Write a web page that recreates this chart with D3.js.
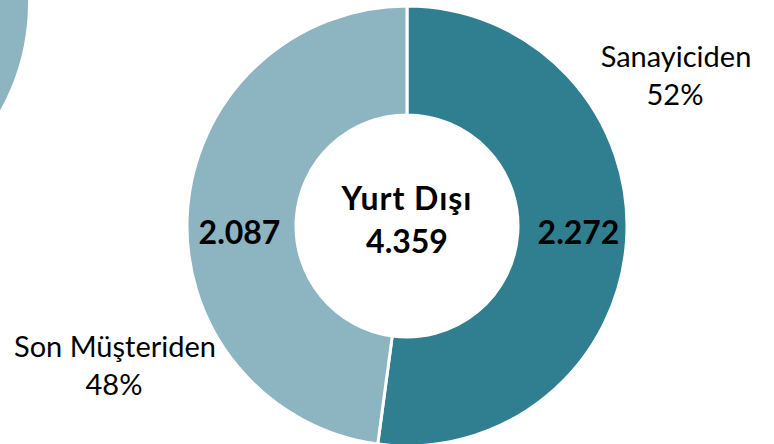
<!DOCTYPE html>
<html>
<head>
<meta charset="utf-8">
<script src="https://cdn.jsdelivr.net/npm/d3@7"></script>
<style>
  body { margin: 0; background: #fff; }
  svg { display: block; font-family: Lato, "Open Sans", sans-serif; }
</style>
</head>
<body>
<div id="chart"></div>
<script>
// values
var categories = ["Sanayiciden", "Son Müşteriden"];
var values = [2272, 2087];
var valueLabels = ["2.272", "2.087"];
var pctLabels = ["52%", "48%"];
var centerTitle = "Yurt Dışı";
var centerTotal = "4.359";
var colors = ["#307F90", "#8DB4C1"];

var width = 774, height = 444;
var cx = 407, cy = 226,
    outerR = 220, innerR = 111;

var svg = d3.select("#chart")
  .append("svg")
  .attr("width", width)
  .attr("height", height);

// neighbouring donut, mostly cut off at the top left
svg.append("circle")
  .attr("cx", -192)
  .attr("cy", 3)
  .attr("r", outerR)
  .attr("fill", colors[1]);

var g = svg.append("g")
  .attr("transform", "translate(" + cx + "," + cy + ")");

var pie = d3.pie().sort(null).value(function(d) { return d; });
var arc = d3.arc().innerRadius(innerR).outerRadius(outerR);

g.selectAll("path")
  .data(pie(values))
  .enter().append("path")
  .attr("d", arc)
  .attr("fill", function(d, i) { return colors[i]; })
  .attr("stroke", "#fff")
  .attr("stroke-width", 3);

// value labels on the ring, kept level with each other
var midR = (innerR + outerR) / 2;
g.selectAll(".val")
  .data(valueLabels)
  .enter().append("text")
  .attr("class", "val")
  .attr("x", function(d, i) { return i === 0 ? midR + 6 : -midR - 2; })
  .attr("y", 18)
  .attr("text-anchor", "middle")
  .attr("font-size", 32)
  .attr("font-weight", "bold")
  .attr("fill", "#000")
  .text(function(d) { return d; });

// centre
g.append("text")
  .attr("x", 0).attr("y", -16)
  .attr("text-anchor", "middle")
  .attr("font-size", 32)
  .attr("font-weight", "bold")
  .attr("letter-spacing", 1)
  .text(centerTitle);
g.append("text")
  .attr("x", 0).attr("y", 27)
  .attr("text-anchor", "middle")
  .attr("font-size", 32)
  .attr("font-weight", "bold")
  .text(centerTotal);

// outside category labels
var outPos = [[676, 67], [115, 357]];
categories.forEach(function(c, i) {
  var t = svg.append("text")
    .attr("text-anchor", "middle")
    .attr("font-size", 29)
    .attr("fill", "#000");
  t.append("tspan").attr("x", outPos[i][0]).attr("y", outPos[i][1]).text(c);
  t.append("tspan").attr("x", outPos[i][0] - 1).attr("y", outPos[i][1] + 38).text(pctLabels[i]);
});
</script>
</body>
</html>
